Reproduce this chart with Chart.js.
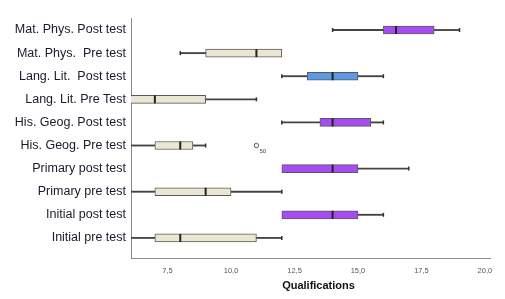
<!DOCTYPE html>
<html>
<head>
<meta charset="utf-8">
<script src="https://cdn.jsdelivr.net/npm/chart.js@4.4.1/dist/chart.umd.min.js"></script>
<style>
  html,body{margin:0;padding:0;background:#fff;}
  #wrap{width:505px;height:299px;position:relative;}
</style>
</head>
<body>
<div id="wrap"><canvas id="c"></canvas></div>
<script>
// ---- data ----
const categories = ['Mat. Phys. Post test','Mat. Phys.  Pre test','Lang. Lit.  Post test','Lang. Lit. Pre Test','His. Geog. Post test','His. Geog. Pre test','Primary post test','Primary pre test','Initial post test','Initial pre test'];
const mins    = [14, 8, 12, 6, 12,   6,   12, 6, 12, 6];
const q1s     = [16, 9, 13, 6, 13.5, 7,   12, 7, 12, 7];
const medians = [16.5, 11, 14, 7, 14, 8,  14, 9, 14, 8];
const q3s     = [18, 12, 15, 9, 15.5, 8.5, 15, 10, 15, 11];
const maxs    = [19, 12, 16, 11, 16, 9,   17, 12, 16, 12];
const groups  = ['post','pre','blue','pre','post','pre','post','pre','post','pre'];
const outlierCats   = [5];
const outlierValues = [11];
const outlierLabels = ['50'];
const xTicks = [7.5, 10, 12.5, 15, 17.5, 20];
const xTitle = 'Qualifications';

// ---- styles ----
const fillFor = {post:'#a64df2', pre:'#ebe6d2', blue:'#5b9be6'};
const boxFill = groups.map(g => fillFor[g]);
const FONT = '"Liberation Sans", Arial, sans-serif';

const boxData = categories.map((c,i)=>({y:i, x:[q1s[i], q3s[i]]}));
const lowWhisk = categories.map((c,i)=> mins[i] < q1s[i] ? {y:i, x:[mins[i], q1s[i]]} : null).filter(Boolean);
const highWhisk = categories.map((c,i)=> maxs[i] > q3s[i] ? {y:i, x:[q3s[i], maxs[i]]} : null).filter(Boolean);
const caps = [];
categories.forEach((c,i)=>{
  if (mins[i] < q1s[i]) caps.push({x:mins[i], y:i});
  if (maxs[i] > q3s[i]) caps.push({x:maxs[i], y:i});
});
const medData = categories.map((c,i)=>({x:medians[i], y:i}));
const outData = outlierCats.map((c,k)=>({x:outlierValues[k], y:c}));

const extrasPlugin = {
  id:'extras',
  afterDatasetsDraw(chart){
    const idx = chart.data.datasets.findIndex(d=>d.label==='outliers');
    const meta = chart.getDatasetMeta(idx);
    const ctx = chart.ctx;
    ctx.save();
    ctx.font = '6px ' + FONT;
    ctx.fillStyle = '#444';
    ctx.textAlign = 'left';
    ctx.textBaseline = 'middle';
    meta.data.forEach((el,k)=>{
      ctx.fillText(outlierLabels[k], el.x + 3, el.y + 6);
    });
    // axis title
    const ca = chart.chartArea;
    ctx.font = 'bold 11px ' + FONT;
    ctx.fillStyle = '#111';
    ctx.textAlign = 'center';
    ctx.fillText(xTitle, (ca.left + ca.right) / 2 + 8, ca.bottom + 28);
    ctx.restore();
  }
};

new Chart(document.getElementById('c'), {
  type:'bar',
  data:{
    datasets:[
      {label:'median', type:'scatter', data:medData, order:0,
        pointStyle:'line', rotation:90, radius:4, borderWidth:2, borderColor:'#222', backgroundColor:'#222'},
      {label:'caps', type:'scatter', data:caps, order:1,
        pointStyle:'line', rotation:90, radius:2, borderWidth:1.5, borderColor:'#333', backgroundColor:'#333'},
      {label:'outliers', type:'scatter', data:outData, order:1,
        pointStyle:'circle', radius:2.2, borderWidth:1, borderColor:'#555', backgroundColor:'#fff'},
      {label:'box', type:'bar', data:boxData, order:2, grouped:false,
        barThickness:8, backgroundColor:boxFill, borderColor:'#5a5a5a', borderWidth:1, borderSkipped:false},
      {label:'lowW', type:'bar', data:lowWhisk, order:3, grouped:false,
        barThickness:1.2, backgroundColor:'#444', borderWidth:0},
      {label:'highW', type:'bar', data:highWhisk, order:3, grouped:false,
        barThickness:1.2, backgroundColor:'#444', borderWidth:0}
    ]
  },
  options:{
    indexAxis:'y',
    responsive:true, maintainAspectRatio:false, animation:false,
    layout:{padding:{top:18, right:15, left:0, bottom:0}},
    plugins:{legend:{display:false}, tooltip:{enabled:false}},
    scales:{
      x:{type:'linear', position:'bottom', min:6.06, max:20.2, offset:false, bounds:'data',
        afterBuildTicks:(s)=>{ s.ticks = xTicks.map(v=>({value:v})); },
        afterFit:(s)=>{ s.height = 41; },
        grid:{display:false, drawTicks:false, offset:false},
        border:{display:true, color:'#8a8a8a', width:1},
        ticks:{padding:8, color:'#555', font:{family:FONT, size:7.5},
          callback:(v)=> Number(v).toFixed(1).replace('.', ',')}
      },
      y:{type:'linear', position:'left', reverse:true, min:-0.52, max:9.87, offset:false, bounds:'data',
        afterBuildTicks:(s)=>{ s.ticks = categories.map((c,i)=>({value:i})); },
        afterFit:(s)=>{ s.width = 131; },
        grid:{display:false, drawTicks:false, offset:false},
        border:{display:true, color:'#8a8a8a', width:1},
        ticks:{padding:5, color:'#1a1a2a', autoSkip:false,
          font:{family:FONT, size:12.5},
          callback:(v)=> categories[Math.round(v)] ?? ''}
      }
    }
  },
  plugins:[extrasPlugin]
});
</script>
</body>
</html>
